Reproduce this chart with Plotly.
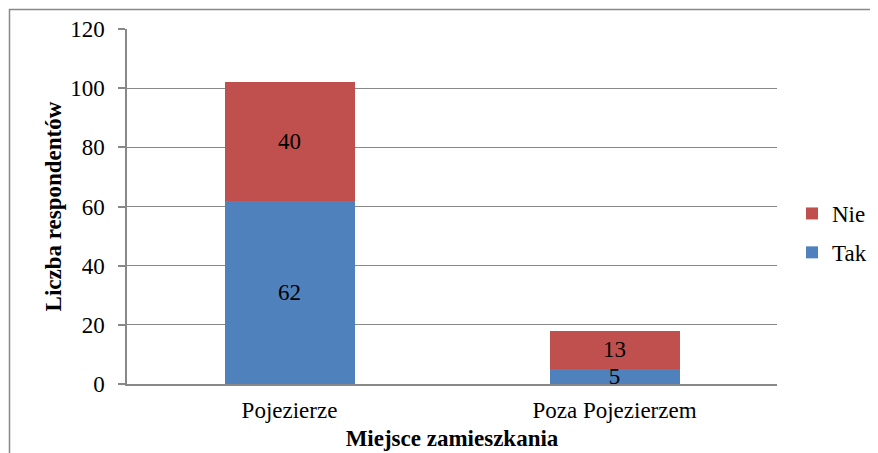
import plotly.graph_objects as go

categories = ["Pojezierze", "Poza Pojezierzem"]
tak_values = [62, 5]
nie_values = [40, 13]
y_ticks = [0, 20, 40, 60, 80, 100, 120]

FONT = "Liberation Serif"
GRID = "#888888"
FS = 23

fig = go.Figure()
fig.add_trace(go.Bar(
    x=categories, y=tak_values, name="Tak", legendgroup="tak", legendrank=2,
    marker=dict(color="#4F81BD", line=dict(width=0)),
    text=[str(v) for v in tak_values], textposition="inside", textangle=0,
    insidetextanchor="middle", constraintext="none",
    textfont=dict(family=FONT, size=FS, color="black"),
))
fig.add_trace(go.Bar(
    x=categories, y=nie_values, name="Nie", legendgroup="nie", legendrank=1,
    marker=dict(color="#C0504D", line=dict(width=0)),
    text=[str(v) for v in nie_values], textposition="inside", textangle=0,
    insidetextanchor="middle", constraintext="none",
    textfont=dict(family=FONT, size=FS, color="black"),
))

# Page body has an 8px default margin; the figure is sized to compensate.
OFF = 8
W, H = 878 - OFF, 453 - OFF
# Plot area in screen pixels
L, R, T, B = 127, 777, 29, 384
pw, ph = R - L, B - T

def px_x(px):
    return (px - L) / pw

def px_y(py):
    return (B - py) / ph

fig.update_layout(
    width=W, height=H,
    margin=dict(l=L - OFF, r=878 - R, t=T - OFF, b=453 - B, pad=0, autoexpand=False),
    barmode="stack",
    bargap=0.6,
    plot_bgcolor="white", paper_bgcolor="white",
    font=dict(family=FONT, size=FS, color="black"),
    showlegend=True,
    legend=dict(
        x=px_x(792), y=px_y(192), xanchor="left", yanchor="top",
        traceorder="grouped", font=dict(family=FONT, size=FS),
        itemwidth=30, tracegroupgap=6, bgcolor="rgba(0,0,0,0)",
    ),
    xaxis=dict(
        showgrid=False, showline=True, linecolor=GRID, linewidth=1.5,
        ticks="", tickfont=dict(family=FONT, size=FS), ticklabelstandoff=5,
        title=dict(text="<b>Miejsce zamieszkania</b>", font=dict(family=FONT, size=FS), standoff=8),
    ),
    yaxis=dict(
        range=[0, 120], tickvals=y_ticks, showgrid=True, gridcolor=GRID, gridwidth=1.4,
        showline=True, linecolor=GRID, linewidth=1.5,
        ticks="outside", ticklen=7, tickcolor=GRID, tickwidth=1.5,
        tickfont=dict(family=FONT, size=FS), zeroline=False, ticklabelstandoff=9,
        title=dict(text="<b>Liczba respondentów</b>", font=dict(family=FONT, size=FS), standoff=2),
    ),
    shapes=[dict(
        type="rect", xref="paper", yref="paper",
        x0=px_x(9.5), x1=px_x(890), y0=px_y(470), y1=px_y(9.5),
        line=dict(color="#888888", width=1.5), fillcolor="rgba(0,0,0,0)", layer="below",
    )],
)

fig.write_html("out.html")
